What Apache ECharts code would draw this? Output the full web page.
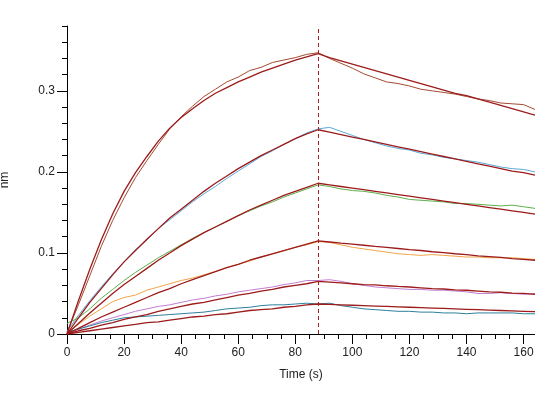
<!DOCTYPE html>
<html>
<head>
<meta charset="utf-8">
<script src="https://cdn.jsdelivr.net/npm/echarts@6/dist/echarts.min.js"></script>
<style>
  html, body { margin: 0; padding: 0; background: #fff; }
  #chart { width: 535px; height: 401px; }
</style>
</head>
<body>
<div id="chart"></div>
<script>
// time points (s), sampled every 4 s
const TIME = [0, 4, 8, 12, 16, 20, 24, 28, 32, 36, 40, 44, 48, 52, 56, 60, 64, 68, 72, 76, 80, 84, 88,
  92, 96, 100, 104, 108, 112, 116, 120, 124, 128, 132, 136, 140, 144, 148, 152, 156, 160, 164];

// start of dissociation
const STEP_T = 88;

// measured responses (nm), highest concentration first
const RAW_1 = [0.002, 0.036, 0.072, 0.108, 0.140, 0.168, 0.193, 0.214, 0.234, 0.253, 0.268, 0.281, 0.293, 0.302, 0.311, 0.317, 0.325, 0.329, 0.335, 0.338, 0.341, 0.345, 0.347,
  0.340, 0.334, 0.328, 0.321, 0.316, 0.311, 0.309, 0.306, 0.302, 0.300, 0.298, 0.296, 0.293, 0.290, 0.288, 0.285, 0.284, 0.283, 0.277];
const RAW_2 = [0.003, 0.023, 0.041, 0.058, 0.074, 0.089, 0.104, 0.116, 0.130, 0.141, 0.152, 0.163, 0.173, 0.182, 0.192, 0.201, 0.210, 0.219, 0.226, 0.234, 0.241, 0.248, 0.253,
  0.255, 0.250, 0.245, 0.240, 0.236, 0.232, 0.229, 0.227, 0.223, 0.221, 0.218, 0.216, 0.214, 0.212, 0.209, 0.206, 0.204, 0.203, 0.200];
const RAW_3 = [0.013, 0.020, 0.031, 0.044, 0.055, 0.066, 0.076, 0.085, 0.094, 0.102, 0.110, 0.118, 0.125, 0.132, 0.139, 0.146, 0.152, 0.158, 0.163, 0.169, 0.174, 0.179, 0.184,
  0.182, 0.179, 0.177, 0.176, 0.174, 0.171, 0.169, 0.166, 0.165, 0.164, 0.163, 0.161, 0.161, 0.160, 0.159, 0.158, 0.159, 0.157, 0.155];
const RAW_4 = [0.002, 0.012, 0.022, 0.031, 0.040, 0.045, 0.048, 0.054, 0.058, 0.062, 0.066, 0.069, 0.073, 0.077, 0.082, 0.086, 0.090, 0.095, 0.099, 0.103, 0.107, 0.110, 0.114,
  0.113, 0.110, 0.107, 0.105, 0.103, 0.101, 0.099, 0.098, 0.097, 0.098, 0.097, 0.096, 0.095, 0.095, 0.094, 0.094, 0.094, 0.093, 0.092];
const RAW_5 = [0.001, 0.006, 0.011, 0.016, 0.020, 0.024, 0.028, 0.031, 0.034, 0.036, 0.039, 0.042, 0.044, 0.047, 0.049, 0.052, 0.054, 0.056, 0.058, 0.061, 0.063, 0.066, 0.066,
  0.067, 0.065, 0.062, 0.060, 0.058, 0.057, 0.056, 0.055, 0.055, 0.054, 0.054, 0.053, 0.052, 0.050, 0.050, 0.051, 0.050, 0.049, 0.050];
const RAW_6 = [0.002, 0.006, 0.010, 0.014, 0.017, 0.020, 0.021, 0.022, 0.023, 0.024, 0.025, 0.026, 0.027, 0.029, 0.031, 0.032, 0.033, 0.035, 0.036, 0.036, 0.037, 0.038, 0.037,
  0.038, 0.035, 0.033, 0.031, 0.030, 0.029, 0.028, 0.028, 0.027, 0.027, 0.026, 0.026, 0.025, 0.026, 0.026, 0.026, 0.026, 0.025, 0.025];

// fitted curves (nm)
const FIT_1 = [0, 0.041, 0.080, 0.116, 0.148, 0.176, 0.199, 0.219, 0.238, 0.254, 0.267, 0.278, 0.288, 0.297, 0.304, 0.311, 0.317, 0.323, 0.328, 0.333, 0.338, 0.342, 0.346,
  0.341, 0.337, 0.333, 0.329, 0.325, 0.321, 0.317, 0.313, 0.309, 0.305, 0.301, 0.297, 0.294, 0.290, 0.286, 0.282, 0.278, 0.274, 0.270];
const FIT_2 = [0, 0.020, 0.039, 0.056, 0.073, 0.089, 0.103, 0.117, 0.130, 0.143, 0.154, 0.165, 0.176, 0.186, 0.195, 0.204, 0.212, 0.220, 0.227, 0.234, 0.241, 0.247, 0.252,
  0.249, 0.246, 0.243, 0.240, 0.237, 0.234, 0.231, 0.228, 0.225, 0.222, 0.219, 0.216, 0.213, 0.210, 0.207, 0.204, 0.201, 0.199, 0.196];
const FIT_3 = [0, 0.013, 0.026, 0.038, 0.050, 0.061, 0.071, 0.081, 0.091, 0.100, 0.109, 0.117, 0.125, 0.132, 0.139, 0.146, 0.153, 0.159, 0.165, 0.171, 0.176, 0.181, 0.186,
  0.184, 0.182, 0.180, 0.178, 0.176, 0.174, 0.172, 0.170, 0.168, 0.166, 0.164, 0.162, 0.160, 0.158, 0.156, 0.154, 0.152, 0.150, 0.148];
const FIT_4 = [0, 0.007, 0.014, 0.021, 0.027, 0.033, 0.039, 0.045, 0.051, 0.056, 0.062, 0.067, 0.072, 0.077, 0.082, 0.086, 0.091, 0.095, 0.099, 0.103, 0.107, 0.111, 0.115,
  0.1135, 0.112, 0.111, 0.1095, 0.108, 0.107, 0.1055, 0.104, 0.103, 0.1015, 0.1005, 0.099, 0.098, 0.0965, 0.0955, 0.0945, 0.093, 0.092, 0.091];
const FIT_5 = [0, 0.004, 0.007, 0.011, 0.014, 0.018, 0.021, 0.024, 0.028, 0.031, 0.034, 0.037, 0.039, 0.042, 0.045, 0.048, 0.050, 0.053, 0.055, 0.058, 0.060, 0.062, 0.065,
  0.064, 0.063, 0.062, 0.061, 0.0605, 0.0595, 0.0587, 0.058, 0.057, 0.056, 0.0555, 0.0545, 0.054, 0.053, 0.052, 0.0515, 0.0505, 0.050, 0.049];
const FIT_6 = [0, 0.002, 0.004, 0.006, 0.008, 0.010, 0.012, 0.014, 0.015, 0.017, 0.019, 0.021, 0.022, 0.024, 0.025, 0.027, 0.029, 0.030, 0.031, 0.033, 0.034, 0.036, 0.037,
  0.0365, 0.036, 0.0355, 0.035, 0.0345, 0.034, 0.0335, 0.033, 0.0325, 0.032, 0.0315, 0.031, 0.0305, 0.030, 0.0295, 0.029, 0.0285, 0.028, 0.0275];

// axis ticks
const X_MAJOR = [0, 20, 40, 60, 80, 100, 120, 140, 160];
const X_MINOR = [0, 5, 10, 15, 20, 25, 30, 35, 40, 45, 50, 55, 60, 65, 70, 75, 80, 85, 90, 95, 100,
  105, 110, 115, 120, 125, 130, 135, 140, 145, 150, 155, 160];
const Y_MAJOR = [0, 0.1, 0.2, 0.3];
const Y_MINOR = [0, 0.02, 0.04, 0.06, 0.08, 0.1, 0.12, 0.14, 0.16, 0.18, 0.2, 0.22, 0.24, 0.26, 0.28, 0.3,
  0.32, 0.34, 0.36, 0.38];

const RAW = [RAW_1, RAW_2, RAW_3, RAW_4, RAW_5, RAW_6];
const FIT = [FIT_1, FIT_2, FIT_3, FIT_4, FIT_5, FIT_6];
const RAW_COLORS = ["#a34a32", "#5ba9d9", "#5fae4c", "#f0a447", "#c27ed2", "#2e7f9c"];
const FIT_COLOR = "#9c1b1b";

const pairs = (values) => TIME.map((t, i) => [t, values[i]]);

const chart = echarts.init(document.getElementById("chart"));

const labelFont = { fontFamily: "Liberation Sans", fontSize: 12, color: "#222" };

const series = [];
RAW.forEach((values, i) => {
  series.push({
    type: "line",
    data: pairs(values),
    showSymbol: false,
    lineStyle: { width: 1, color: RAW_COLORS[i] },
    z: 2,
  });
});
FIT.forEach((values, i) => {
  series.push({
    type: "line",
    data: pairs(values),
    showSymbol: false,
    lineStyle: { width: 1.3, color: FIT_COLOR },
    z: 3,
    markLine: i === 0 ? {
      silent: true,
      symbol: "none",
      label: { show: false },
      lineStyle: { type: [4, 3], width: 1, color: "#a82020" },
      data: [{ xAxis: STEP_T }],
    } : undefined,
  });
});

chart.setOption({
  animation: false,
  backgroundColor: "#fff",
  grid: { left: 67, right: 0, top: 26, bottom: 67, containLabel: false, outerBoundsMode: "none" },
  xAxis: [
    {
      type: "value",
      min: 0,
      max: 164,
      position: "bottom",
      name: "Time (s)",
      nameLocation: "middle",
      nameGap: 35,
      nameTextStyle: labelFont,
      axisLine: { lineStyle: { color: "#000", width: 1 } },
      axisTick: { length: 10, lineStyle: { color: "#000" }, customValues: X_MAJOR },
      axisLabel: { ...labelFont, margin: 13, customValues: X_MAJOR },
      splitLine: { show: false },
    },
    {
      type: "value",
      min: 0,
      max: 164,
      position: "bottom",
      axisLine: { show: false },
      axisTick: { length: 5, lineStyle: { color: "#000" }, customValues: X_MINOR },
      axisLabel: { show: false },
      splitLine: { show: false },
    },
  ],
  yAxis: [
    {
      type: "value",
      min: 0,
      max: 0.38,
      position: "left",
      name: "nm",
      nameLocation: "middle",
      nameGap: 56,
      nameTextStyle: labelFont,
      axisLine: { show: true, lineStyle: { color: "#000", width: 1 } },
      axisTick: { show: true, length: 10, lineStyle: { color: "#000" }, customValues: Y_MAJOR },
      axisLabel: { ...labelFont, margin: 12, customValues: Y_MAJOR },
      splitLine: { show: false },
    },
    {
      type: "value",
      min: 0,
      max: 0.38,
      position: "left",
      axisLine: { show: false },
      axisTick: { show: true, length: 5, lineStyle: { color: "#000" }, customValues: Y_MINOR },
      axisLabel: { show: false },
      splitLine: { show: false },
    },
  ],
  series: series,
});
</script>
</body>
</html>
